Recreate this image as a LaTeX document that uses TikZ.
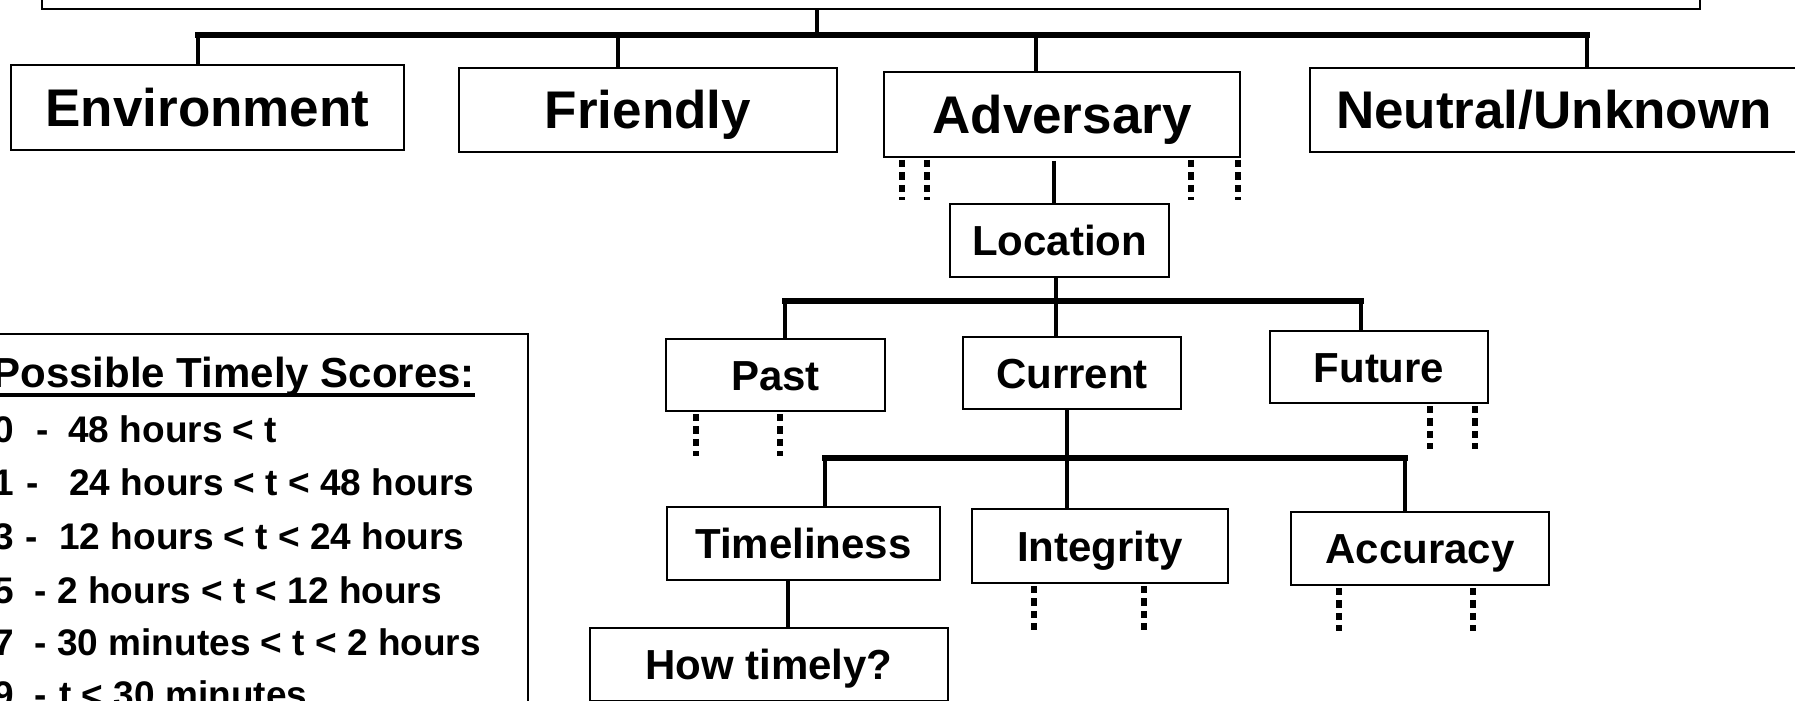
\documentclass[tikz,border=0pt]{standalone}
\usepackage{fontspec}
\setmainfont{Liberation Sans}
\usetikzlibrary{positioning}

\begin{document}
\begin{tikzpicture}[x=0.5pt,y=-0.5pt]
	\tikzset{box/.style = {shape=rectangle,draw,line width=1pt,
			inner sep=0pt, text depth=0pt}}
	\tikzset{big/.style = {box,text height=19pt,
			font=\fontsize{26.5}{30}\selectfont\bfseries}}
	\tikzset{mid/.style = {box,text height=15pt,
			font=\fontsize{21}{24}\selectfont\bfseries}}
	\tikzset{bus/.style = {line width=2.6pt, line cap=rect}}
	\tikzset{stem/.style = {line width=2.1pt}}
	\tikzset{trail/.style = {line width=2.6pt, dash pattern=on 3.6pt off 2.6pt}}
	\tikzset{score/.style = {anchor=base west, inner sep=0pt,
			font=\fontsize{18.5}{22}\selectfont\bfseries}}

	\useasboundingbox (0,0) rectangle (1795,701);

	% vertices
	\node[box, minimum width=829pt, minimum height=40pt] (root) at (871,-31) {};

	\node[big, minimum width=196.5pt, minimum height=42.5pt] (env) at (207.5,107.5) {Environment};
	\node[big, minimum width=189pt, minimum height=42pt] (friend) at (648,110) {Friendly};
	\node[big, minimum width=178pt, minimum height=42.5pt] (adv) at (1062,114.5) {Adversary};
	\node[big, minimum width=244pt, minimum height=42pt] (neutral) at (1554,110) {Neutral/Unknown};

	\node[mid, minimum width=109.5pt, minimum height=36.5pt] (loc) at (1059.5,240.5) {Location};
	\node[mid, minimum width=109.5pt, minimum height=36pt] (past) at (775.5,375) {Past};
	\node[mid, minimum width=109pt, minimum height=36pt] (cur) at (1072,373) {Current};
	\node[mid, minimum width=109pt, minimum height=36pt] (fut) at (1379,367) {Future};

	\node[mid, minimum width=136.5pt, minimum height=36.5pt] (time) at (803.5,543.5) {Timeliness};
	\node[mid, minimum width=128pt, minimum height=37pt] (integ) at (1100,546) {Integrity};
	\node[mid, minimum width=129pt, minimum height=36.5pt] (acc) at (1420,548.5) {Accuracy};
	\node[mid, minimum width=179pt, minimum height=36.5pt] (how) at (769,664.5) {How timely?};

	% legend
	\node[box, minimum width=274pt, minimum height=203pt] (legend) at (254,537) {};
	\node[score, font=\fontsize{21}{24}\selectfont\bfseries] (title) at (-8,387) {Possible Timely Scores:};
	\draw[line width=1.8pt] ([yshift=-4pt]title.base west) -- ([yshift=-4pt]title.base east);
	\foreach \d/\dx/\tx/\yy/\txt [count=\i] in {
			0/36/68/442/48 hours < t,
			1/26/69/495/24 hours < t < 48 hours,
			3/25/59/549/12 hours < t < 24 hours,
			5/34/57/603/2 hours < t < 12 hours,
			7/34/57/655/30 minutes < t < 2 hours,
			9/34/59/707/t < 30 minutes}{
		\node[score] (d\i) at (-7,\yy) {\d};
		\node[score] (m\i) at (\dx,\yy) {-};
		\node[score] (s\i) at (\tx,\yy) {\txt};
	}

	%edges
	\coordinate (j0) at (817,35);
	\coordinate (j1) at (198,35);
	\coordinate (j2) at (618,35);
	\coordinate (j3) at (1036,35);
	\coordinate (j4) at (1587,35);
	\draw[stem] (root.south -| j0) -- (j0);
	\draw[stem] (j1) -- (j1 |- env.north);
	\draw[stem] (j2) -- (j2 |- friend.north);
	\draw[stem] (j3) -- (j3 |- adv.north);
	\draw[stem] (j4) -- (j4 |- neutral.north);
	\draw[bus] (j1) -- (j4);

	\coordinate (a0) at (1054,161);
	\draw[stem] (a0) -- (a0 |- loc.north);

	\coordinate (k0) at (1056,301);
	\coordinate (k1) at (785,301);
	\coordinate (k3) at (1361,301);
	\draw[stem] (loc.south -| k0) -- (k0);
	\draw[stem] (k1) -- (k1 |- past.north);
	\draw[stem] (k0) -- (k0 |- cur.north);
	\draw[stem] (k3) -- (k3 |- fut.north);
	\draw[bus] (k1) -- (k3);

	\coordinate (c0) at (1067,458);
	\coordinate (c1) at (825,458);
	\coordinate (c3) at (1405,458);
	\draw[stem] (cur.south -| c0) -- (c0);
	\draw[stem] (c1) -- (c1 |- time.north);
	\draw[stem] (c0) -- (c0 |- integ.north);
	\draw[stem] (c3) -- (c3 |- acc.north);
	\draw[bus] (c1) -- (c3);

	\coordinate (h0) at (788,580);
	\draw[stem] (time.south -| h0) -- (h0 |- how.north);

	% open branches
	\foreach \x [count=\i] in {902,927,1191,1238}{
		\coordinate (adt\i) at (\x,200);
		\draw[trail] ([yshift=-1pt]adt\i |- adv.south) -- (adt\i);
	}
	\foreach \x [count=\i] in {696,780}{
		\coordinate (pt\i) at (\x,456);
		\draw[trail] ([yshift=-1pt]pt\i |- past.south) -- (pt\i);
	}
	\foreach \x [count=\i] in {1430,1475}{
		\coordinate (ft\i) at (\x,449);
		\draw[trail] ([yshift=-1pt]ft\i |- fut.south) -- (ft\i);
	}
	\foreach \x [count=\i] in {1034,1144}{
		\coordinate (it\i) at (\x,630);
		\draw[trail] ([yshift=-1pt]it\i |- integ.south) -- (it\i);
	}
	\foreach \x [count=\i] in {1339,1473}{
		\coordinate (act\i) at (\x,631);
		\draw[trail] ([yshift=-1pt]act\i |- acc.south) -- (act\i);
	}
\end{tikzpicture}
\end{document}
